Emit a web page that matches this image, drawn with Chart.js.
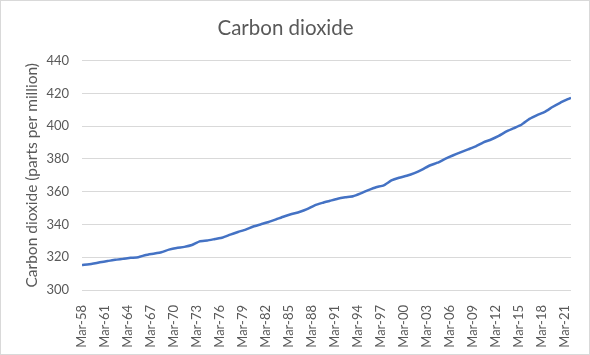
<!DOCTYPE html>
<html><head><meta charset="utf-8">
<script src="https://cdn.jsdelivr.net/npm/chart.js@4"></script>
<style>html,body{margin:0;padding:0;background:#fff}canvas{display:block}</style>
</head><body>
<canvas id="c" width="590" height="355"></canvas>
<script>
const tickLabels = ["Mar-58","Mar-61","Mar-64","Mar-67","Mar-70","Mar-73","Mar-76","Mar-79","Mar-82","Mar-85","Mar-88","Mar-91","Mar-94","Mar-97","Mar-00","Mar-03","Mar-06","Mar-09","Mar-12","Mar-15","Mar-18","Mar-21"];
const sampleDates = ["1958-03","1959-07","1960-07","1961-07","1962-07","1963-07","1964-07","1965-07","1966-07","1967-07","1968-07","1969-07","1970-07","1971-07","1972-07","1973-07","1974-07","1975-07","1976-07","1977-07","1978-07","1979-07","1980-07","1981-07","1982-07","1983-07","1984-07","1985-07","1986-07","1987-07","1988-07","1989-07","1990-07","1991-07","1992-07","1993-07","1994-07","1995-07","1996-07","1997-07","1998-07","1999-07","2000-07","2001-07","2002-07","2003-07","2004-07","2005-07","2006-07","2007-07","2008-07","2009-07","2010-07","2011-07","2012-07","2013-07","2014-07","2015-07","2016-07","2017-07","2018-07","2019-07","2020-07","2021-07","2021-12"];
const co2Values = [315.2,315.98,316.91,317.64,318.45,318.99,319.62,320.04,321.37,322.18,323.05,324.62,325.68,326.32,327.46,329.68,330.19,331.12,332.03,333.84,335.41,336.84,338.76,340.12,341.48,343.15,344.87,346.35,347.61,349.31,351.69,353.20,354.45,355.70,356.54,357.21,358.96,360.97,362.74,363.88,366.84,368.54,369.71,371.32,373.45,375.98,377.70,379.98,382.09,384.02,385.83,387.64,390.10,391.85,394.06,396.74,398.81,401.01,404.41,406.76,408.72,411.66,414.24,416.45,417.3];

const monthsPerTick = 36;
function monthIndex(d){const [y,m]=d.split("-").map(Number);return (y-1958)*12+(m-3);}
const points = sampleDates.map((d,i)=>({x:monthIndex(d),y:co2Values[i]}));
const lastIndex = monthIndex(sampleDates[sampleDates.length-1]);

const frame = {id:'frame',afterDraw(chart){const c=chart.ctx;c.save();c.strokeStyle='#d9d9d9';c.lineWidth=1;c.strokeRect(0.5,0.5,589,354);c.restore();}};

new Chart(document.getElementById('c'),{
  type:'line',
  data:{datasets:[{data:points,borderColor:'#4472C4',borderWidth:2.5,pointRadius:0,tension:0.15,fill:false}]},
  options:{
    responsive:false,animation:false,devicePixelRatio:1,
    layout:{padding:{left:0,right:19,top:0,bottom:0}},
    plugins:{legend:{display:false},tooltip:{enabled:false},
      title:{display:true,text:'Carbon dioxide',color:'#595959',font:{family:'Lato',size:20.5,weight:'normal'},padding:{top:16,bottom:20}}},
    scales:{
      x:{type:'linear',min:0,max:lastIndex,
        grid:{display:false},border:{display:false},
        afterBuildTicks:s=>{s.ticks=tickLabels.map((_,i)=>({value:i*monthsPerTick}));},
        afterFit:s=>{s.height=65;},
        ticks:{autoSkip:false,maxRotation:90,minRotation:90,padding:7,color:'#595959',font:{family:'Lato',size:13},
          callback:v=>tickLabels[Math.round(v/monthsPerTick)]}},
      y:{min:300,max:440,
        grid:{color:'#d9d9d9',drawTicks:false},border:{display:false},
        afterFit:s=>{s.width=82;},
        ticks:{stepSize:20,padding:13,color:'#595959',font:{family:'Lato',size:13}},
        title:{display:true,text:'Carbon dioxide (parts per million)',color:'#595959',font:{family:'Lato',size:15.5},padding:{top:23,bottom:0}}}
    }
  },
  plugins:[frame]
});
</script>
</body></html>
